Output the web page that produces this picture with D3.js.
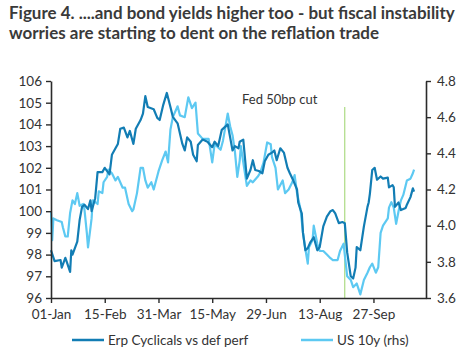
<!DOCTYPE html>
<html><head><meta charset="utf-8">
<script src="https://cdn.jsdelivr.net/npm/d3@7"></script>
<style>
html,body{margin:0;padding:0;background:#fff;}
svg{display:block;font-family:Lato,"Open Sans",sans-serif;}
</style></head>
<body>
<svg id="c" width="464" height="353"></svg>
<script>
// ---- data (day offsets from 1 Jan 2024) ----
const titleLines = ["Figure 4. ....and bond yields higher too - but fiscal instability",
                    "worries are starting to dent on the reflation trade"];
const seriesNames = ["Erp Cyclicals vs def perf", "US 10y (rhs)"];
const cyclicalsDays = [0,3,8,9,12,13,16,17,18,22,24,26,28,31,33,34,37,39,43,45,49,51,54,56,58,61,64,66,69,71,75,77,79,81,86,89,91,94,97,100,102,106,110,112,114,117,119,122,123,127,131,135,137,140,143,148,150,152,154,157,158,161,164,167,169,171,174,177,179,182,185,187,189,192,195,198,200,203,206,207,209,210,211,213,215,217,220,223,225,228,231,234,236,238,241,244,246,248,251,253,255,256,259,262,263,265,266,267,269,271,273,276,278,282,283,286,287,288,291,293,297,298,301,303,304];
const cyclicalsVals = [98.2,97.7,97.75,97.4,97.85,97.7,97.2,98.2,98.0,98.6,99.6,100.2,100.3,100.1,100.5,100.0,100.6,101.8,101.8,102.0,101.7,102.6,102.9,103.1,103.8,103.85,103.4,103.7,103.1,103.8,104.2,104.5,105.3,104.8,104.7,104.3,104.2,104.9,105.45,104.8,104.35,104.05,103.1,102.8,103.4,103.2,102.6,102.3,103.05,103.3,103.2,102.95,103.2,103.0,103.75,104.0,103.4,102.8,103.0,102.9,103.2,103.3,101.5,101.9,102.35,101.9,101.85,101.75,102.3,102.6,102.7,102.8,102.35,102.9,102.7,102.0,101.75,101.4,101.0,100.4,100.05,99.9,99.0,98.2,98.3,98.55,98.8,98.2,98.35,99.3,99.75,100.0,100.05,99.9,99.45,99.5,99.45,98.1,97.0,96.9,97.4,98.35,98.2,99.3,99.6,100.2,100.4,100.8,101.9,102.0,101.45,101.6,101.5,101.55,101.1,101.2,101.1,100.2,100.4,100.05,100.15,100.3,100.65,101.05,100.9];
const us10yDays = [0,1,2,5,9,10,12,14,16,18,20,22,24,27,28,30,31,34,35,39,40,43,44,47,48,51,54,56,60,62,65,68,69,72,75,77,79,81,84,86,90,93,96,98,100,102,106,108,112,115,118,121,123,127,132,135,137,142,144,148,150,152,154,156,158,159,161,164,167,169,173,175,178,181,184,185,188,190,194,196,199,202,204,206,209,211,213,215,216,219,220,223,225,228,231,234,236,240,242,245,248,251,253,256,257,259,262,265,267,269,272,274,276,278,282,283,285,287,289,291,293,295,298,301,303,304];
const us10yVals = [4.08,3.92,4.04,4.03,4.02,3.99,3.94,3.94,4.07,4.14,4.12,4.18,4.11,4.12,4.09,3.96,3.88,4.04,4.14,4.12,4.19,4.18,4.24,4.27,4.31,4.29,4.25,4.27,4.21,4.21,4.12,4.08,4.09,4.18,4.32,4.32,4.25,4.21,4.24,4.20,4.30,4.36,4.41,4.35,4.53,4.60,4.66,4.61,4.60,4.71,4.65,4.68,4.51,4.48,4.48,4.35,4.45,4.42,4.47,4.62,4.55,4.50,4.41,4.27,4.36,4.44,4.35,4.22,4.25,4.24,4.27,4.29,4.35,4.46,4.45,4.38,4.32,4.20,4.25,4.18,4.20,4.24,4.28,4.18,4.09,3.96,3.87,3.79,3.88,3.92,4.0,3.90,3.86,3.86,3.84,3.82,3.81,3.81,3.86,3.90,3.72,3.70,3.66,3.68,3.66,3.62,3.70,3.74,3.77,3.79,3.74,3.77,3.96,4.00,4.04,4.10,4.13,4.10,4.01,4.08,4.14,4.17,4.25,4.26,4.29,4.31];
const leftTicks = [96,97,98,99,100,101,102,103,104,105,106];
const rightTicks = [3.6,3.8,4.0,4.2,4.4,4.6,4.8];
const xTickDays = [0,45,90,135,180,225,270];
const startDate = new Date(2024,0,1);
const endDay = 314;
const fedCutDay = 246;
const fedLabel = "Fed 50bp cut";

const dayToDate = d => d3.timeDay.offset(startDate, d);
const darkCol = "#127db4", lightCol = "#5dc9f2", axisCol = "#2b2b2b", textCol = "#333333";
const FONT = "Lato, 'Open Sans', sans-serif";

const svg = d3.select("#c");
const m = {l:51, r:426, t:81, b:298};
const x = d3.scaleTime().domain([startDate, dayToDate(endDay)]).range([m.l, m.r]);
const yL = d3.scaleLinear().domain([96,106]).range([m.b, m.t]);
const yR = d3.scaleLinear().domain([3.6,4.8]).range([m.b, m.t]);

// title
const tt = svg.append("g").selectAll("text").data(titleLines).join("text")
  .attr("x", 9).attr("y", (d,i)=>19+i*19.5)
  .attr("font-size", 17).attr("font-weight", 700).attr("fill", "#3a3a3a")
  .attr("font-family", FONT)
  .text(d=>d);
// fit first line to the reference width (~446px)
const w0 = tt.nodes()[0].getComputedTextLength();
const fs = Math.min(18, 17 * 446 / w0);
tt.attr("font-size", fs);

// fed cut line
svg.append("line").attr("x1", x(dayToDate(fedCutDay))).attr("x2", x(dayToDate(fedCutDay)))
  .attr("y1", 107).attr("y2", m.b).attr("stroke", "#9bd36a").attr("stroke-width", 1);
svg.append("text").attr("x", 242).attr("y", 104).attr("font-size", 13).attr("font-family", FONT)
  .attr("fill", textCol).text(fedLabel);

// lines
const lineL = d3.line().x(d=>x(dayToDate(d[0]))).y(d=>yL(d[1]));
const lineR = d3.line().x(d=>x(dayToDate(d[0]))).y(d=>yR(d[1]));
svg.append("path").datum(us10yDays.map((d,i)=>[d,us10yVals[i]])).attr("d", lineR)
  .attr("fill","none").attr("stroke", lightCol).attr("stroke-width", 2.2).attr("stroke-linejoin","round");
svg.append("path").datum(cyclicalsDays.map((d,i)=>[d,cyclicalsVals[i]])).attr("d", lineL)
  .attr("fill","none").attr("stroke", darkCol).attr("stroke-width", 2.2).attr("stroke-linejoin","round");

// axes
function styleAxis(g){
  g.select(".domain").attr("stroke", axisCol).attr("stroke-width", 1.6);
  g.selectAll(".tick line").attr("stroke", axisCol).attr("stroke-width", 1.4);
  g.selectAll(".tick text").attr("fill", textCol).attr("font-size", 13.5).attr("font-family", FONT);
}
svg.append("g").attr("transform", `translate(${m.l},0)`)
  .call(d3.axisLeft(yL).tickValues(leftTicks).tickFormat(d3.format("d")).tickSize(5).tickSizeOuter(0).tickPadding(4))
  .call(styleAxis);
svg.append("g").attr("transform", `translate(${m.r},0)`)
  .call(d3.axisRight(yR).tickValues(rightTicks).tickFormat(d3.format(".1f")).tickSize(5).tickSizeOuter(0).tickPadding(6))
  .call(styleAxis);
svg.append("g").attr("transform", `translate(0,${m.b})`)
  .call(d3.axisBottom(x).tickValues(xTickDays.map(dayToDate)).tickFormat(d3.timeFormat("%d-%b")).tickSize(5).tickSizeOuter(0).tickPadding(6))
  .call(styleAxis);

// legend
const leg = svg.append("g");
const legItems = [{name: seriesNames[0], col: darkCol, x: 72}, {name: seriesNames[1], col: lightCol, x: 301}];
legItems.forEach(it=>{
  leg.append("line").attr("x1", it.x).attr("x2", it.x+32).attr("y1", 340).attr("y2", 340)
    .attr("stroke", it.col).attr("stroke-width", 2.5);
  leg.append("text").attr("x", it.x+36).attr("y", 344.5).attr("font-size", 13.5).attr("font-family", FONT)
    .attr("fill", textCol).text(it.name);
});
</script>
</body></html>
